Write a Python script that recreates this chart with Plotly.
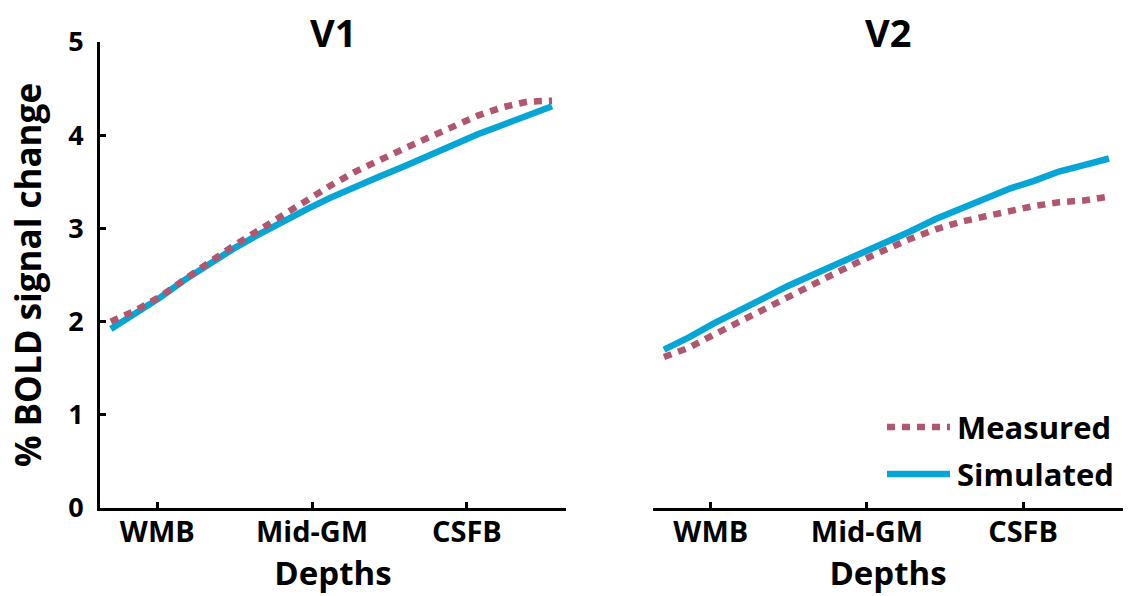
import plotly.graph_objects as go

# ---- data ----
depth_pos = [0.70, 0.86, 1.02, 1.17, 1.33, 1.49, 1.65, 1.81, 1.97, 2.12,
             2.28, 2.44, 2.60, 2.76, 2.92, 3.07, 3.23, 3.39, 3.55]
v1_measured = [2.00, 2.12, 2.27, 2.45, 2.63, 2.81, 2.98, 3.14, 3.30, 3.46,
               3.61, 3.74, 3.86, 3.98, 4.10, 4.21, 4.30, 4.36, 4.37]
v1_simulated = [1.92, 2.08, 2.26, 2.44, 2.62, 2.78, 2.93, 3.08, 3.21, 3.33,
                3.45, 3.56, 3.67, 3.79, 3.90, 4.01, 4.11, 4.21, 4.31]
v2_measured = [1.62, 1.72, 1.86, 1.99, 2.12, 2.25, 2.39, 2.53, 2.66, 2.78,
               2.89, 2.99, 3.07, 3.13, 3.19, 3.24, 3.28, 3.30, 3.34]
v2_simulated = [1.70, 1.83, 1.98, 2.11, 2.24, 2.38, 2.50, 2.62, 2.73, 2.84,
                2.97, 3.10, 3.21, 3.33, 3.43, 3.51, 3.61, 3.68, 3.75]
depth_ticks = [1, 2, 3]
depth_labels = ["WMB", "Mid-GM", "CSFB"]
y_ticks = [0, 1, 2, 3, 4, 5]
panel_titles = ["V1", "V2"]
series_names = ["Measured", "Simulated"]

MEAS_COLOR = "#B0566F"
SIM_COLOR = "#05A6D6"
FONT = "Open Sans"
DASH = "8px,7px"

fig = go.Figure()

# V1
fig.add_trace(go.Scatter(x=depth_pos, y=v1_simulated, mode="lines", name=series_names[1],
                         line=dict(color=SIM_COLOR, width=6.5), xaxis="x", yaxis="y",
                         showlegend=False))
fig.add_trace(go.Scatter(x=depth_pos, y=v1_measured, mode="lines", name=series_names[0],
                         line=dict(color=MEAS_COLOR, width=6.5, dash=DASH), xaxis="x", yaxis="y",
                         showlegend=False))
# V2
fig.add_trace(go.Scatter(x=depth_pos, y=v2_simulated, mode="lines", name=series_names[1],
                         line=dict(color=SIM_COLOR, width=6.5), xaxis="x2", yaxis="y2",
                         showlegend=False))
fig.add_trace(go.Scatter(x=depth_pos, y=v2_measured, mode="lines", name=series_names[0],
                         line=dict(color=MEAS_COLOR, width=6.5, dash=DASH), xaxis="x2", yaxis="y2",
                         showlegend=False))

xtickfont = dict(family=FONT, size=29, color="black", weight="bold")
ytickfont = dict(family=FONT, size=27, color="black", weight="bold")
titlefont = dict(family=FONT, size=33, color="black", weight="bold")

xaxis_common = dict(
    range=[0.63, 3.64], tickmode="array", tickvals=depth_ticks, ticktext=depth_labels,
    showline=True, linecolor="black", linewidth=3, ticks="inside", ticklen=6,
    tickwidth=3, tickcolor="black", showgrid=False, zeroline=False,
    tickfont=xtickfont, ticklabelstandoff=-4,
    title=dict(text="Depths", font=titlefont, standoff=6),
    automargin=False, fixedrange=True,
)

fig.update_layout(
    width=1136, height=596,
    margin=dict(l=100, r=13, t=42, b=88),
    paper_bgcolor="white", plot_bgcolor="white",
    showlegend=False,
    xaxis=dict(domain=[0, 0.4555], anchor="y", **xaxis_common),
    xaxis2=dict(domain=[0.5406, 1], anchor="y2", **xaxis_common),
    yaxis=dict(range=[0, 5], tickvals=y_ticks, showline=True, linecolor="black", linewidth=3,
               ticks="inside", ticklen=6, tickwidth=3, tickcolor="black", showgrid=False,
               zeroline=False, tickfont=ytickfont, ticklabelstandoff=8,
               title=dict(text="% BOLD signal change",
                          font=dict(family=FONT, size=35, color="black", weight="bold"),
                          standoff=16),
               automargin=False, fixedrange=True, anchor="x"),
    yaxis2=dict(range=[0, 5], visible=False, anchor="x2", automargin=False, fixedrange=True),
)

# panel titles
for xc, txt in [(0.2278, panel_titles[0]), (0.7703, panel_titles[1])]:
    fig.add_annotation(x=xc, y=1.0, xref="paper", yref="paper", text=txt, showarrow=False,
                       xanchor="center", yanchor="bottom", yshift=-18,
                       font=dict(family=FONT, size=38, color="black", weight="bold"))

# legend (drawn in V2 panel)
leg_items = [(series_names[0], MEAS_COLOR, DASH, 0.1737), (series_names[1], SIM_COLOR, "solid", 0.0729)]
for name, col, dash, yy in leg_items:
    fig.add_shape(type="line", xref="paper", yref="paper", x0=0.7693, x1=0.8309, y0=yy, y1=yy,
                  line=dict(color=col, width=6.5, dash=dash))
    fig.add_annotation(x=0.8358, y=yy, xref="paper", yref="paper", text=name, showarrow=False,
                       xanchor="left", yanchor="middle",
                       font=dict(family=FONT, size=31, color="black", weight="bold"))

fig.write_html("out.html", config={"displayModeBar": False},
               post_script="document.body.style.margin='0';")
